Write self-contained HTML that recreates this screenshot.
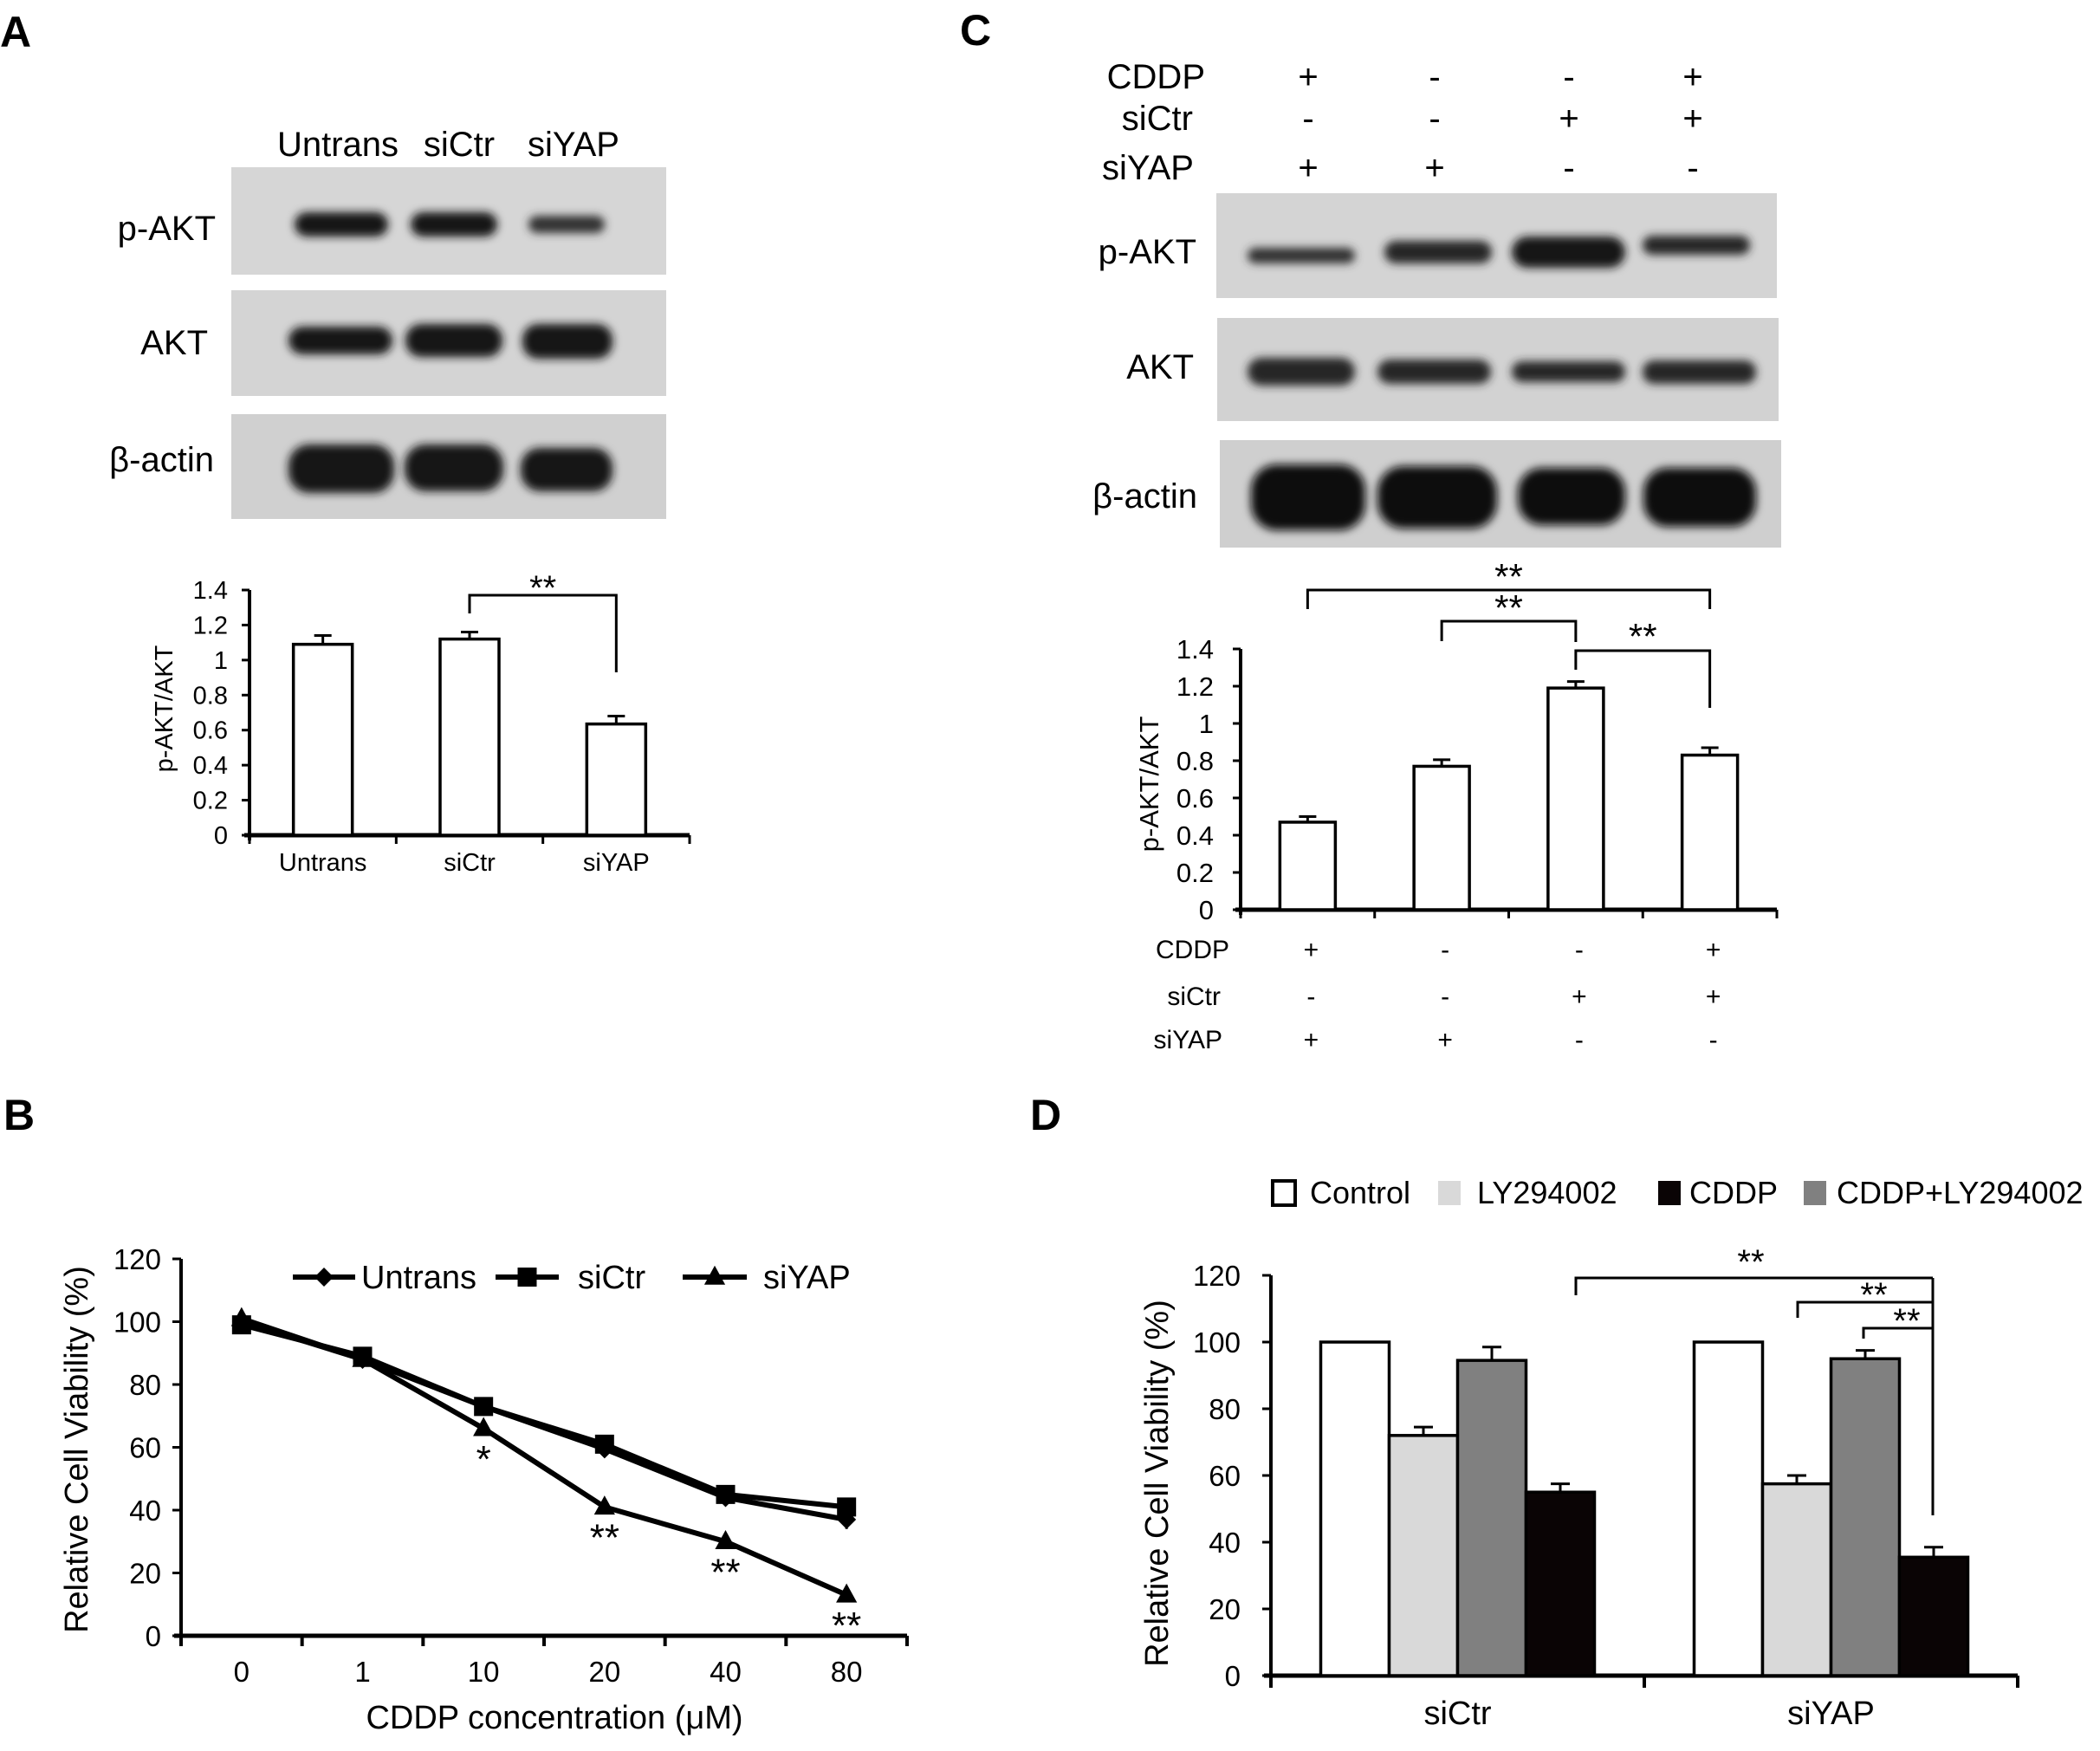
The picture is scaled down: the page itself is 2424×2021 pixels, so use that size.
<!DOCTYPE html>
<html><head><meta charset="utf-8"><style>
html,body{margin:0;padding:0;background:#fff;}
svg{display:block;font-family:"Liberation Sans",Arial,sans-serif;}
</style></head><body>
<svg id="fig" xmlns="http://www.w3.org/2000/svg" width="2424" height="2021" viewBox="0 0 2424 2021">
<defs>
<filter id="blur" x="-30%" y="-80%" width="160%" height="260%"><feGaussianBlur stdDeviation="5"/></filter>
</defs>
<rect x="0" y="0" width="2424" height="2021" fill="#fff"/>
<!-- Panel letters -->
<text x="0" y="54" font-size="50" font-weight="bold">A</text>
<text x="1108" y="52" font-size="50" font-weight="bold">C</text>
<text x="4" y="1304" font-size="50" font-weight="bold">B</text>
<text x="1189" y="1304" font-size="50" font-weight="bold">D</text>

<!-- Panel A western blot -->
<g font-size="40">
<text x="390" y="180" text-anchor="middle">Untrans</text>
<text x="530" y="180" text-anchor="middle">siCtr</text>
<text x="662" y="180" text-anchor="middle">siYAP</text>
<rect x="267" y="193" width="502" height="124" fill="#d6d6d6"/>
<rect x="267" y="335" width="502" height="122" fill="#d4d4d4"/>
<rect x="267" y="478" width="502" height="121" fill="#d0d0d0"/>
<text x="249" y="277" text-anchor="end">p-AKT</text>
<text x="240" y="409" text-anchor="end">AKT</text>
<text x="247" y="544" text-anchor="end">β-actin</text>
<g filter="url(#blur)" fill="#141414">
<rect x="340" y="245" width="108" height="28" rx="14"/>
<rect x="474" y="245" width="100" height="28" rx="14"/>
<rect x="610" y="249" width="88" height="20" rx="10" fill="#333"/>
<rect x="333" y="377" width="120" height="32" rx="16"/>
<rect x="468" y="374" width="112" height="38" rx="18"/>
<rect x="603" y="374" width="104" height="40" rx="18"/>
<rect x="333" y="513" width="122" height="56" rx="24"/>
<rect x="467" y="513" width="114" height="54" rx="24"/>
<rect x="601" y="517" width="106" height="50" rx="22"/>
</g>
</g>

<!-- Panel C western blot -->
<g font-size="40">
<text x="1391" y="102" text-anchor="end">CDDP</text>
<text x="1377" y="150" text-anchor="end">siCtr</text>
<text x="1378" y="207" text-anchor="end">siYAP</text>
<g text-anchor="middle" font-size="40">
<text x="1510" y="102">+</text>
<text x="1656" y="102">-</text>
<text x="1811" y="102">-</text>
<text x="1954" y="102">+</text>
<text x="1510" y="150">-</text>
<text x="1656" y="150">-</text>
<text x="1811" y="150">+</text>
<text x="1954" y="150">+</text>
<text x="1510" y="207">+</text>
<text x="1656" y="207">+</text>
<text x="1811" y="207">-</text>
<text x="1954" y="207">-</text>
</g>
<rect x="1404" y="223" width="647" height="121" fill="#d4d4d4"/>
<rect x="1405" y="367" width="648" height="119" fill="#d2d2d2"/>
<rect x="1408" y="508" width="648" height="124" fill="#cfcfcf"/>
<text x="1381" y="304" text-anchor="end">p-AKT</text>
<text x="1378" y="437" text-anchor="end">AKT</text>
<text x="1382" y="586" text-anchor="end">β-actin</text>
<g filter="url(#blur)" fill="#181818">
<rect x="1440" y="286" width="124" height="18" rx="9" fill="#333"/>
<rect x="1598" y="278" width="124" height="26" rx="13" fill="#262626"/>
<rect x="1745" y="273" width="131" height="36" rx="18"/>
<rect x="1896" y="272" width="124" height="22" rx="11" fill="#262626"/>
<rect x="1440" y="413" width="124" height="32" rx="16" fill="#262626"/>
<rect x="1590" y="415" width="131" height="28" rx="14" fill="#262626"/>
<rect x="1745" y="417" width="131" height="24" rx="12" fill="#262626"/>
<rect x="1896" y="416" width="131" height="27" rx="13" fill="#262626"/>
<rect x="1444" y="536" width="132" height="76" rx="30" fill="#080808"/>
<rect x="1590" y="538" width="138" height="72" rx="30" fill="#080808"/>
<rect x="1752" y="540" width="124" height="66" rx="28" fill="#080808"/>
<rect x="1897" y="540" width="130" height="68" rx="28" fill="#080808"/>
</g>
</g>
<g id="charts"></g>
</svg>
<script>
// ---- Panel A data ----
const aCategories = ["Untrans", "siCtr", "siYAP"];
const aValues = [1.09, 1.12, 0.635];
const aErrors = [0.05, 0.04, 0.045];
const aTicks = ["0", "0.2", "0.4", "0.6", "0.8", "1", "1.2", "1.4"];
// ---- Panel C data ----
const cValues = [0.47, 0.77, 1.19, 0.83];
const cErrors = [0.03, 0.035, 0.035, 0.04];
const cTicks = ["0", "0.2", "0.4", "0.6", "0.8", "1", "1.2", "1.4"];
const cCDDP = ["+", "-", "-", "+"];
const cSiCtr = ["-", "-", "+", "+"];
const cSiYAP = ["+", "+", "-", "-"];
// ---- Panel B data ----
const bCategories = ["0", "1", "10", "20", "40", "80"];
const bUntrans = [100, 88, 73, 59.5, 44, 37];
const bUntransErr = [1, 1.5, 2, 2, 2, 3];
const bSiCtr = [99, 89, 73, 61, 45, 41];
const bSiYAP = [101, 88, 66, 41, 30, 13];
const bStars = ["", "", "*", "**", "**", "**"];
const bTicks = ["0", "20", "40", "60", "80", "100", "120"];
// ---- Panel D data ----
const dGroups = ["siCtr", "siYAP"];
const dSeries = ["Control", "LY294002", "CDDP+LY294002", "CDDP"];
const dControl = [100, 100];
const dLY = [72, 57.5];
const dCombo = [94.5, 95];
const dCDDP = [55, 35.5];
const dControlErr = [0, 0];
const dLYErr = [2.5, 2.5];
const dComboErr = [4, 2.5];
const dCDDPErr = [2.5, 3];
const dTicks = ["0", "20", "40", "60", "80", "100", "120"];

const NS = "http://www.w3.org/2000/svg";
const root = document.getElementById("charts");
function mk(tag, attrs, parent) {
  const el = document.createElementNS(NS, tag);
  for (const k in attrs) el.setAttribute(k, attrs[k]);
  (parent || root).appendChild(el);
  return el;
}
function txt(s, attrs, parent) { const t = mk("text", attrs, parent); t.textContent = s; return t; }
function line(x1, y1, x2, y2, w) { return mk("line", {x1, y1, x2, y2, stroke: "#000", "stroke-width": w || 4}); }

// ---------- Panel A chart ----------
(function () {
  const x0 = 288, x1 = 796, yb = 964, yt = 681, vmax = 1.4;
  const y = v => yb - v / vmax * (yb - yt);
  const bw = (x1 - x0) / aCategories.length;
  const xc = i => x0 + bw * (i + 0.5);
  let el = line(x0, yt, x0, yb + 6, 4);
  
  
  el = line(x0 - 6, yb, x1, yb, 5);
  
  
  aTicks.forEach((t, i) => {
    const v = i * 0.2;
    const tk = line(x0 - 9, y(v), x0, y(v), 3);
    
    
    const lb = txt(t, {x: 263, y: y(v) + 10, "font-size": 29, "text-anchor": "end"});
    
    
  });
  for (let i = 0; i <= aCategories.length; i++) {
    const tk = line(x0 + bw * i, yb, x0 + bw * i, yb + 10, 3);
    
    
  }
  aCategories.forEach((c, i) => {
    const b = mk("rect", {x: xc(i) - 34, y: y(aValues[i]), width: 68, height: yb - y(aValues[i]), fill: "#fff", stroke: "#000", "stroke-width": 3.5});
    
    
    const e = line(xc(i), y(aValues[i]), xc(i), y(aValues[i] + aErrors[i]), 3);
    
    
    const cp = line(xc(i) - 10, y(aValues[i] + aErrors[i]), xc(i) + 10, y(aValues[i] + aErrors[i]), 3);
    
    
    const lb = txt(c, {x: xc(i), y: 1005, "font-size": 29, "text-anchor": "middle"});
    
    
  });
  const br = mk("polyline", {points: `${xc(1)},708 ${xc(1)},687 ${xc(2)},687 ${xc(2)},776`, fill: "none", stroke: "#000", "stroke-width": 3});
  
  
  const st = txt("**", {x: (xc(1) + xc(2)) / 2, y: 692, "font-size": 40, "text-anchor": "middle"});
  
  
  const yl = txt("p-AKT/AKT", {x: 0, y: 0, "font-size": 29, "text-anchor": "middle", transform: "translate(199,818) rotate(-90)"});
  
  
})();

// ---------- Panel C chart ----------
(function () {
  const x0 = 1432, x1 = 2051, yb = 1050, yt = 749, vmax = 1.4;
  const y = v => yb - v / vmax * (yb - yt);
  const bw = (x1 - x0) / cValues.length;
  const xc = i => x0 + bw * (i + 0.5);
  let el = line(x0, yt, x0, yb + 6, 4);
  
  
  el = line(x0 - 6, yb, x1, yb, 5);
  
  
  cTicks.forEach((t, i) => {
    const v = i * 0.2;
    const tk = line(x0 - 9, y(v), x0, y(v), 3);
    
    
    const lb = txt(t, {x: 1401, y: y(v) + 11, "font-size": 31, "text-anchor": "end"});
    
    
  });
  for (let i = 0; i <= cValues.length; i++) {
    const tk = line(x0 + bw * i, yb, x0 + bw * i, yb + 10, 3);
    
    
  }
  cValues.forEach((v, i) => {
    const b = mk("rect", {x: xc(i) - 32, y: y(v), width: 64, height: yb - y(v), fill: "#fff", stroke: "#000", "stroke-width": 3.5});
    
    
    const e = line(xc(i), y(v), xc(i), y(v + cErrors[i]), 3);
    
    
    const cp = line(xc(i) - 10, y(v + cErrors[i]), xc(i) + 10, y(v + cErrors[i]), 3);
    
    
    const s1 = txt(cCDDP[i], {x: xc(i) + 4, y: 1106, "font-size": 30, "text-anchor": "middle"});
    
    
    const s2 = txt(cSiCtr[i], {x: xc(i) + 4, y: 1160, "font-size": 30, "text-anchor": "middle"});
    
    
    const s3 = txt(cSiYAP[i], {x: xc(i) + 4, y: 1210, "font-size": 30, "text-anchor": "middle"});
    
    
  });
  const rows = [["CDDP", 1419, 1106], ["siCtr", 1409, 1160], ["siYAP", 1411, 1210]];
  rows.forEach(r => {
    const lb = txt(r[0], {x: r[1], y: r[2], "font-size": 30, "text-anchor": "end"});
    
    
  });
  const brs = [[0, 3, 681, 703, 703, 676], [1, 2, 717, 740, 741, 712], [2, 3, 751, 773, 817, 745]];
  brs.forEach(b => {
    const p = mk("polyline", {points: `${xc(b[0])},${b[3]} ${xc(b[0])},${b[2]} ${xc(b[1])},${b[2]} ${xc(b[1])},${b[4]}`, fill: "none", stroke: "#000", "stroke-width": 3});
    
    
    const s = txt("**", {x: (xc(b[0]) + xc(b[1])) / 2, y: b[5] + 4, "font-size": 42, "text-anchor": "middle"});
    
    
  });
  const yl = txt("p-AKT/AKT", {x: 0, y: 0, "font-size": 31, "text-anchor": "middle", transform: "translate(1337,905) rotate(-90)"});
  
  
})();

// ---------- Panel B chart ----------
(function () {
  const x0 = 209, x1 = 1047, yb = 1888, yt = 1453, vmax = 120;
  const y = v => yb - v / vmax * (yb - yt);
  const bw = (x1 - x0) / bCategories.length;
  const xc = i => x0 + bw * (i + 0.5);
  let el = line(x0, yt, x0, yb + 8, 4);
  
  
  el = line(x0 - 8, yb, x1, yb, 5);
  
  
  bTicks.forEach((t, i) => {
    const v = i * 20;
    const tk = line(x0 - 10, y(v), x0, y(v), 3);
    
    
    const lb = txt(t, {x: 186, y: y(v) + 12, "font-size": 33, "text-anchor": "end"});
    
    
  });
  for (let i = 0; i <= bCategories.length; i++) {
    const tk = line(x0 + bw * i, yb, x0 + bw * i, yb + 12, 4);
    
    
  }
  bCategories.forEach((c, i) => {
    const lb = txt(c, {x: xc(i), y: 1941, "font-size": 33, "text-anchor": "middle"});
    
    
  });
  function series(vals, name, marker) {
    const pts = vals.map((v, i) => `${xc(i)},${y(v)}`).join(" ");
    const pl = mk("polyline", {points: pts, fill: "none", stroke: "#000", "stroke-width": 6, "stroke-linejoin": "round"});
    
    
    vals.forEach((v, i) => {
      const m = drawMarker(marker, xc(i), y(v), 11);
      
      
    });
  }
  function drawMarker(type, cx, cy, s) {
    if (type === "square") return mk("rect", {x: cx - s, y: cy - s, width: 2 * s, height: 2 * s, fill: "#000"});
    if (type === "triangle") return mk("polygon", {points: `${cx},${cy - s * 1.2} ${cx + s * 1.1},${cy + s * 0.8} ${cx - s * 1.1},${cy + s * 0.8}`, fill: "#000"});
    return mk("polygon", {points: `${cx},${cy - s} ${cx + s},${cy} ${cx},${cy + s} ${cx - s},${cy}`, fill: "#000"});
  }
  bUntrans.forEach((v, i) => {
    const e = line(xc(i), y(v - bUntransErr[i]), xc(i), y(v + bUntransErr[i]), 3);
    
    
  });
  series(bSiYAP, "siyap", "triangle");
  series(bUntrans, "untrans", "diamond");
  series(bSiCtr, "sictr", "square");
  bStars.forEach((s, i) => {
    if (!s) return;
    const t = txt(s, {x: xc(i), y: y(bSiYAP[i]) + 50, "font-size": 44, "text-anchor": "middle"});
    
    
  });
  // legend
  const leg = [["Untrans", 338, 410, 417, "diamond"], ["siCtr", 572, 645, 667, "square"], ["siYAP", 788, 862, 881, "triangle"]];
  leg.forEach(l => {
    const ln = line(l[1], 1474, l[2], 1474, 6);
    
    
    const m = drawMarker(l[4], (l[1] + l[2]) / 2, 1474, 11);
    
    
    const t = txt(l[0], {x: l[3], y: 1487, "font-size": 38});
    
    
  });
  const xt = txt("CDDP concentration (μM)", {x: 640, y: 1995, "font-size": 38, "text-anchor": "middle"});
  
  
  const yl = txt("Relative Cell Viability (%)", {x: 0, y: 0, "font-size": 38, "text-anchor": "middle", transform: "translate(101,1673) rotate(-90)"});
  
  
})();

// ---------- Panel D chart ----------
(function () {
  const x0 = 1467, x1 = 2329, yb = 1934, yt = 1472, vmax = 120;
  const y = v => yb - v / vmax * (yb - yt);
  const gw = (x1 - x0) / dGroups.length;
  const gc = g => x0 + gw * (g + 0.5);
  const bw = 79;
  const xb = (g, s) => gc(g) - 2 * bw + s * bw;
  const vals = [dControl, dLY, dCombo, dCDDP];
  const errs = [dControlErr, dLYErr, dComboErr, dCDDPErr];
  const fills = ["#ffffff", "#d9d9d9", "#808080", "#0a0405"];
  let el = line(x0, yt, x0, yb + 8, 4);
  
  
  el = line(x0 - 8, yb, x1, yb, 5);
  
  
  dTicks.forEach((t, i) => {
    const v = i * 20;
    const tk = line(x0 - 10, y(v), x0, y(v), 3);
    
    
    const lb = txt(t, {x: 1432, y: y(v) + 12, "font-size": 33, "text-anchor": "end"});
    
    
  });
  for (let i = 0; i <= dGroups.length; i++) {
    const tk = line(x0 + gw * i, yb, x0 + gw * i, yb + 14, 4);
    
    
  }
  dGroups.forEach((g, gi) => {
    vals.forEach((arr, s) => {
      const v = arr[gi];
      const b = mk("rect", {x: xb(gi, s), y: y(v), width: bw, height: yb - y(v), fill: fills[s], stroke: "#000", "stroke-width": 3.5});
      
      
      if (errs[s][gi] > 0) {
        const cx = xb(gi, s) + bw / 2;
        const e = line(cx, y(v), cx, y(v + errs[s][gi]), 3);
        
        
        const cp = line(cx - 11, y(v + errs[s][gi]), cx + 11, y(v + errs[s][gi]), 3);
        
        
      }
    });
    const lb = txt(g, {x: gc(gi), y: 1990, "font-size": 38, "text-anchor": "middle"});
    
    
  });
  const rx = 2231;
  const brs = [[1819, 1475, 1495, 1452], [2075, 1503, 1521, 1490], [2151, 1533, 1545, 1520]];
  brs.forEach(b => {
    const p = mk("polyline", {points: `${b[0]},${b[2]} ${b[0]},${b[1]} ${rx},${b[1]}`, fill: "none", stroke: "#000", "stroke-width": 3});
    
    
    const s = txt("**", {x: b[0] === 1819 ? 2021 : (b[0] + rx) / 2 + 10, y: b[3] + 18, "font-size": 40, "text-anchor": "middle"});
    
    
  });
  const rl = line(rx, 1475, rx, 1749, 3);
  
  
  // legend
  const leg = [[1469, 1512, fills[0], "Control"], [1660, 1705, fills[1], "LY294002"], [1914, 1950, fills[3], "CDDP"], [2082, 2120, fills[2], "CDDP+LY294002"]];
  leg.forEach((l, i) => {
    const r = mk("rect", {x: l[0], y: 1363, width: 26, height: 28, fill: l[2], stroke: i === 0 ? "#000" : "none", "stroke-width": 4});
    
    
    const t = txt(l[3], {x: l[1], y: 1389, "font-size": 36});
    
    
  });
  const yl = txt("Relative Cell Viability (%)", {x: 0, y: 0, "font-size": 38, "text-anchor": "middle", transform: "translate(1348,1712) rotate(-90)"});
  
  
})();
</script>
</body></html>
